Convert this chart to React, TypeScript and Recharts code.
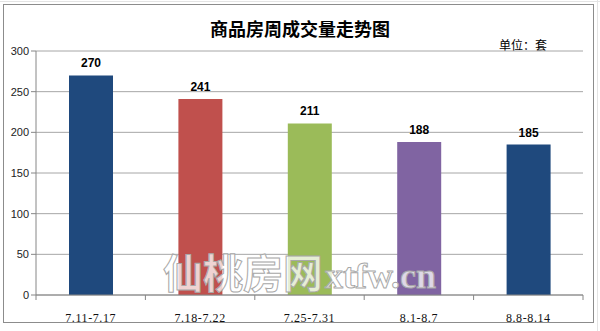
import React from 'react';
import { BarChart, Bar, XAxis, YAxis, CartesianGrid, LabelList, Cell } from 'recharts';

const categories = ['7.11-7.17', '7.18-7.22', '7.25-7.31', '8.1-8.7', '8.8-8.14'];
const volumes = [270, 241, 211, 188, 185];
const barColors = ['#1F497D', '#C0504D', '#9BBB59', '#8064A2', '#1F497D'];
const yTicks = [0, 50, 100, 150, 200, 250, 300];
const title = '商品房周成交量走势图';
const unitText = '单位：套';

const data = categories.map((c, i) => ({ name: c, value: volumes[i] }));

const XTick = (props: any) => {
  const { x, y, payload, index, visibleTicksCount } = props;
  const count = visibleTicksCount || categories.length;
  const half = (547 / count) / 2;
  const top = 295;
  return (
    <g>
      <line x1={x - half} y1={top} x2={x - half} y2={top + 5} stroke="#868686" strokeWidth={1} />
      {index === count - 1 && (
        <line x1={x + half} y1={top} x2={x + half} y2={top + 5} stroke="#868686" strokeWidth={1} />
      )}
      <text
        x={x}
        y={y + 19}
        textAnchor="middle"
        fontFamily="'Liberation Serif', serif"
        fontSize={12}
        letterSpacing={0.6}
        fill="#111"
      >
        {payload.value}
      </text>
    </g>
  );
};

export default function App() {
  return (
    <div style={{ position: 'absolute', left: 0, top: 0, width: 600, height: 331, background: '#fff', overflow: 'hidden' }}>
      <div style={{ position: 'absolute', left: 0, top: 1, width: 600, height: 1, background: '#e4e4e4' }} />
      <div style={{ position: 'absolute', left: 597, top: 0, width: 1, height: 331, background: '#e4e4e4' }} />
      <div style={{ position: 'absolute', left: 3, top: 4, width: 589, height: 317, border: '1px solid #8c8c8c', background: '#fff' }} />
      <div
        style={{
          position: 'absolute',
          left: 0,
          top: 17,
          width: 600,
          textAlign: 'center',
          fontFamily: "'Noto Sans CJK SC', sans-serif",
          fontWeight: 700,
          fontSize: 18,
          color: '#000',
          lineHeight: '22px',
        }}
      >
        {title}
      </div>
      <div
        style={{
          position: 'absolute',
          left: 499,
          top: 37,
          fontFamily: "'Noto Sans CJK SC', sans-serif",
          fontSize: 12,
          color: '#000',
          lineHeight: '16px',
        }}
      >
        {unitText}
      </div>
      <div style={{ position: 'absolute', left: 0, top: 0 }}>
        <BarChart
          width={600}
          height={331}
          data={data}
          margin={{ top: 51, right: 17, left: 0, bottom: 0 }}
          barSize={44}
        >
          <CartesianGrid vertical={false} stroke="#a6a6a6" strokeWidth={1} />
          <XAxis
            dataKey="name"
            height={36}
            axisLine={{ stroke: '#868686' }}
            tickLine={false}
            tick={<XTick />}
            interval={0}
          />
          <YAxis
            width={36}
            domain={[0, 300]}
            ticks={yTicks}
            interval={0}
            axisLine={{ stroke: '#868686' }}
            tickLine={{ stroke: '#868686' }}
            tickSize={5}
            tick={{ fill: '#222', fontSize: 11, fontFamily: "'Liberation Sans', Arial, sans-serif" }}
          />
          <Bar dataKey="value" isAnimationActive={false}>
            {data.map((d, i) => (
              <Cell key={d.name} fill={barColors[i]} />
            ))}
            <LabelList
              dataKey="value"
              position="top"
              offset={8}
              fill="#000"
              fontSize={12}
              fontWeight={700}
              fontFamily="'Liberation Sans', Arial, sans-serif"
            />
          </Bar>
        </BarChart>
      </div>
      <div
        style={{
          position: 'absolute',
          left: 163,
          top: 248,
          fontFamily: "'Noto Sans CJK SC', sans-serif",
          fontSize: 40,
          fontWeight: 700,
          color: 'rgba(255,255,255,0.75)',
          WebkitTextStroke: '1px #a8a8a8',
          lineHeight: '46px',
          whiteSpace: 'nowrap',
          pointerEvents: 'none',
        }}
      >
        仙桃房网
        <span style={{ fontFamily: "'Liberation Serif', serif", fontSize: 36, fontWeight: 700, marginLeft: 2 }}>xtfw.cn</span>
      </div>
    </div>
  );
}
